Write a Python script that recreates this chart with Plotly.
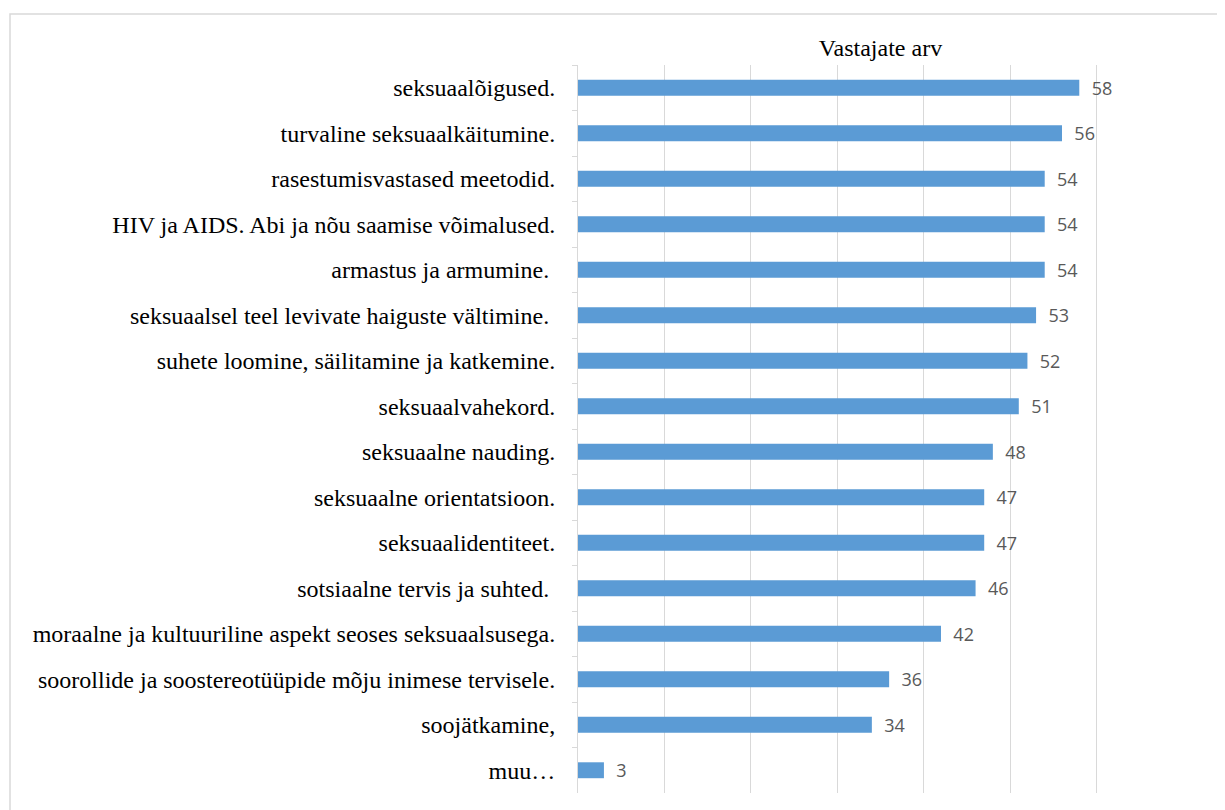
import plotly.graph_objects as go

categories = [
    "seksuaalõigused.",
    "turvaline seksuaalkäitumine.",
    "rasestumisvastased meetodid.",
    "HIV ja AIDS. Abi ja nõu saamise võimalused.",
    "armastus ja armumine. ",
    "seksuaalsel teel levivate haiguste vältimine. ",
    "suhete loomine, säilitamine ja katkemine.",
    "seksuaalvahekord.",
    "seksuaalne nauding.",
    "seksuaalne orientatsioon.",
    "seksuaalidentiteet.",
    "sotsiaalne tervis ja suhted. ",
    "moraalne ja kultuuriline aspekt seoses seksuaalsusega.",
    "soorollide ja soostereotüüpide mõju inimese tervisele.",
    "soojätkamine,",
    "muu…",
]
values = [58, 56, 54, 54, 54, 53, 52, 51, 48, 47, 47, 46, 42, 36, 34, 3]
title_text = "Vastajate arv"

OFF = 8  # page body margin
W, H = 1225 - OFF, 810 - OFF
# target page pixels: plot x 578..1183, y 65..793
L = 578 - OFF
R = W - (1183 - OFF)
T = 65 - OFF
B = H - (793 - OFF)
pw, ph = W - L - R, H - T - B

fig = go.Figure(go.Bar(
    y=categories,
    x=values,
    orientation="h",
    marker=dict(color="#5b9bd5", line=dict(width=0)),
    text=values,
    texttemplate="\u00a0\u00a0%{x}",
    textposition="outside",
    constraintext="none",
    cliponaxis=False,
    textfont=dict(family="Open Sans, Liberation Sans, sans-serif", size=18, color="#595959"),
))

def px_x(p):
    return (p - OFF - L) / pw

def px_y(p):
    return (H - B - (p - OFF)) / ph

fig.update_layout(
    width=W, height=H,
    margin=dict(l=L, r=R, t=T, b=B, autoexpand=False),
    paper_bgcolor="white", plot_bgcolor="white",
    bargap=0.65,
    showlegend=False,
    title=dict(text=title_text, x=0.5, xref="paper", xanchor="center",
               y=1 - (48 - OFF) / H, yanchor="middle",
               font=dict(family="Liberation Serif, Times New Roman, serif", size=24, color="#000000")),
    xaxis=dict(range=[0, 70], dtick=10, showticklabels=False, showgrid=True,
               gridcolor="#d9d9d9", gridwidth=1, zeroline=False, showline=False,
               fixedrange=True),
    yaxis=dict(autorange="reversed", showline=True, linecolor="#d9d9d9", linewidth=1,
               ticks="outside", tickson="boundaries", ticklen=5, tickcolor="#d9d9d9",
               tickfont=dict(family="Liberation Serif, Times New Roman, serif", size=24, color="#000000"),
               ticklabelstandoff=17, showgrid=False),
    shapes=[dict(type="rect", xref="paper", yref="paper",
                 x0=px_x(10), x1=px_x(1240), y0=px_y(830), y1=px_y(14),
                 line=dict(color="#d9d9d9", width=1.5), fillcolor="rgba(0,0,0,0)", layer="below")],
)

fig.write_html("out.html")
